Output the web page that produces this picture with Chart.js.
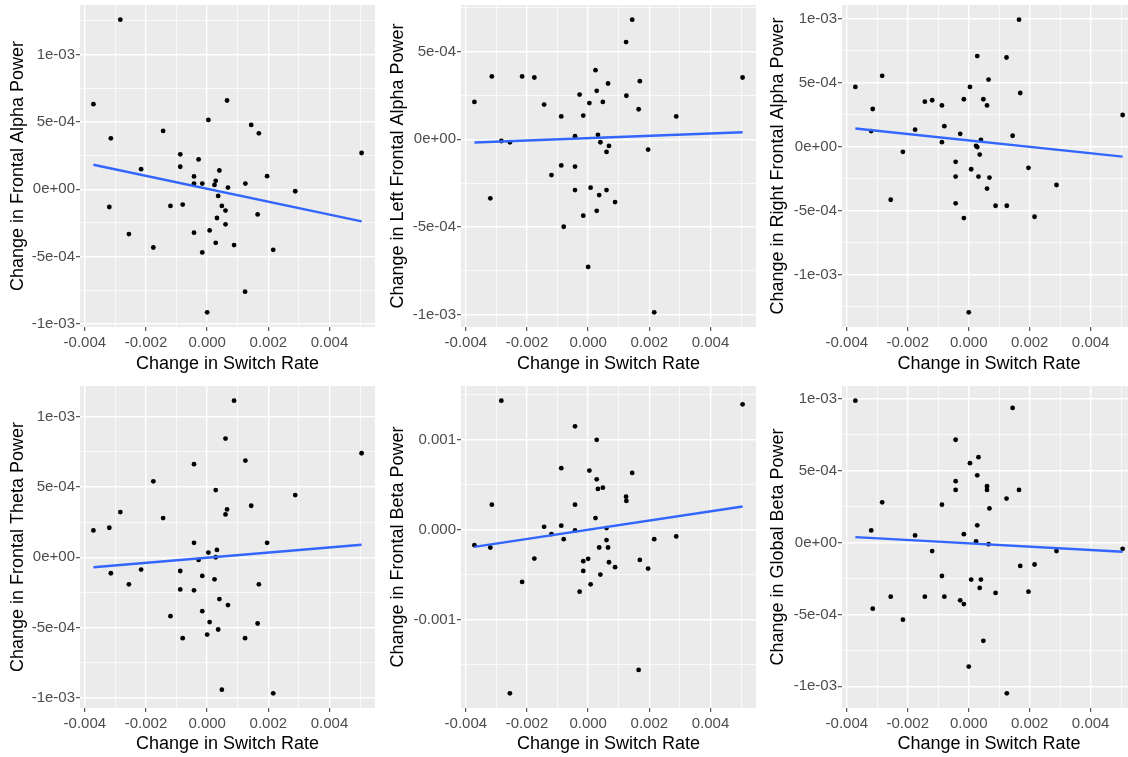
<!DOCTYPE html>
<html>
<head>
<meta charset="utf-8">
<script src="https://cdn.jsdelivr.net/npm/chart.js@4.4.0/dist/chart.umd.min.js"></script>
<style>
  html, body { margin: 0; padding: 0; background: #fff; overflow: hidden; }
  #wrap { position: relative; width: 1128px; height: 757px; overflow: hidden; }
  #wrap canvas { position: absolute; display: block; }
</style>
</head>
<body>
<div id="wrap">
  <canvas id="p1" width="380" height="380" style="left:0;top:0"></canvas>
  <canvas id="p2" width="380" height="380" style="left:380px;top:0"></canvas>
  <canvas id="p3" width="380" height="380" style="left:760px;top:0"></canvas>
  <canvas id="p4" width="380" height="380" style="left:0;top:380px"></canvas>
  <canvas id="p5" width="380" height="380" style="left:380px;top:380px"></canvas>
  <canvas id="p6" width="380" height="380" style="left:760px;top:380px"></canvas>
</div>
<script>
/* =============================================
   Switch rate vs. EEG band power — 2x3 scatter grid
   ============================================= */

// --- Data (same 42 subjects in every panel) ---
const switchRate = [
  -3.72e-3, -3.20e-3, -3.15e-3, -2.84e-3, -2.56e-3, -2.16e-3, -1.76e-3, -1.44e-3, -1.20e-3, -0.88e-3,
  -0.88e-3, -0.80e-3, -0.43e-3, -0.43e-3, -0.43e-3, -0.28e-3, -0.16e-3, -0.16e-3, 0.00e-3, 0.04e-3,
  0.08e-3, 0.24e-3, 0.28e-3, 0.28e-3, 0.32e-3, 0.36e-3, 0.40e-3, 0.48e-3, 0.60e-3, 0.60e-3,
  0.65e-3, 0.68e-3, 0.88e-3, 1.24e-3, 1.25e-3, 1.44e-3, 1.65e-3, 1.69e-3, 1.96e-3, 2.16e-3,
  2.88e-3, 5.05e-3
];

const frontalAlpha = [
  6.32e-4, -1.32e-4, 3.78e-4, 12.6e-4, -3.33e-4, 1.49e-4, -4.33e-4, 4.33e-4, -1.24e-4, 2.59e-4,
  1.67e-4, -1.14e-4, 0.95e-4, 0.42e-4, -3.23e-4, 2.21e-4, 0.42e-4, -4.70e-4, -9.15e-4, 5.15e-4,
  -3.06e-4, 0.32e-4, 0.62e-4, -3.98e-4, -2.14e-4, -0.50e-4, 1.39e-4, -1.24e-4, -1.59e-4, -2.61e-4,
  6.59e-4, 0.12e-4, -4.15e-4, -7.61e-4, 0.42e-4, 4.78e-4, -1.87e-4, 4.15e-4, 0.97e-4, -4.50e-4,
  -0.15e-4, 2.69e-4
];

const leftFrontalAlpha = [
  2.13e-4, -3.37e-4, 3.58e-4, -0.10e-4, -0.17e-4, 3.58e-4, 3.52e-4, 1.98e-4, -2.04e-4, 1.30e-4,
  -1.49e-4, -4.99e-4, 0.17e-4, -1.56e-4, -2.90e-4, 2.55e-4, 1.35e-4, -4.36e-4, -7.28e-4, 2.06e-4,
  -2.76e-4, 3.94e-4, 2.76e-4, -4.08e-4, 0.25e-4, -3.18e-4, -0.17e-4, 2.13e-4, -0.72e-4, -2.90e-4,
  3.18e-4, -0.38e-4, -3.58e-4, 5.54e-4, 2.48e-4, 6.82e-4, 1.71e-4, 3.31e-4, -0.59e-4, -9.87e-4,
  1.30e-4, 3.52e-4
];

const rightFrontalAlpha = [
  4.65e-4, 1.20e-4, 2.93e-4, 5.52e-4, -4.16e-4, -0.42e-4, 1.31e-4, 3.50e-4, 3.61e-4, 3.21e-4,
  0.34e-4, 1.59e-4, -1.20e-4, -2.35e-4, -4.44e-4, 0.99e-4, 3.69e-4, -5.59e-4, -12.96e-4, 4.65e-4,
  -1.78e-4, 0.05e-4, 7.06e-4, -0.05e-4, -2.35e-4, -0.63e-4, 0.52e-4, 3.69e-4, 3.21e-4, -3.29e-4,
  5.23e-4, -2.43e-4, -4.63e-4, 6.95e-4, -4.63e-4, 0.84e-4, 9.91e-4, 4.18e-4, -1.67e-4, -5.49e-4,
  -3.01e-4, 2.46e-4
];

const frontalTheta = [
  1.91e-4, 2.10e-4, -1.14e-4, 3.22e-4, -1.93e-4, -0.88e-4, 5.41e-4, 2.79e-4, -4.20e-4, -0.98e-4,
  -2.29e-4, -5.77e-4, 6.63e-4, 1.03e-4, -2.36e-4, -0.19e-4, -1.33e-4, -3.84e-4, -5.51e-4, 0.33e-4,
  -4.62e-4, -1.57e-4, 4.79e-4, 0.00e-4, 0.52e-4, -5.15e-4, -2.98e-4, -9.44e-4, 8.46e-4, 3.05e-4,
  3.41e-4, -3.41e-4, 11.16e-4, -5.77e-4, 6.89e-4, 3.67e-4, -4.72e-4, -1.93e-4, 1.03e-4, -9.70e-4,
  4.43e-4, 7.41e-4
];

const frontalBeta = [
  -1.71e-4, -1.97e-4, 2.79e-4, 14.35e-4, -18.18e-4, -5.80e-4, -3.20e-4, 0.33e-4, -0.48e-4, 6.84e-4,
  0.45e-4, -1.04e-4, 11.49e-4, 2.79e-4, -0.07e-4, -6.88e-4, -3.49e-4, -4.57e-4, -3.23e-4, 6.58e-4,
  -6.06e-4, 1.30e-4, 5.61e-4, 10.0e-4, 4.54e-4, -1.97e-4, -4.98e-4, 4.68e-4, 0.19e-4, -1.15e-4,
  -1.97e-4, -3.61e-4, -4.16e-4, 3.68e-4, 3.20e-4, 6.32e-4, -15.58e-4, -3.35e-4, -4.31e-4, -1.04e-4,
  -0.74e-4, 13.94e-4
];

const globalBeta = [
  9.86e-4, 0.84e-4, -4.60e-4, 2.79e-4, -3.77e-4, -5.37e-4, 0.49e-4, -3.77e-4, -0.60e-4, 2.63e-4,
  -2.33e-4, -3.77e-4, 7.14e-4, 4.26e-4, 3.65e-4, -4.02e-4, 0.58e-4, -4.28e-4, -8.63e-4, 5.51e-4,
  -2.58e-4, 0.07e-4, 4.67e-4, 1.19e-4, 5.93e-4, -3.16e-4, -2.58e-4, -6.84e-4, 3.91e-4, 3.65e-4,
  -0.12e-4, 2.37e-4, -3.51e-4, 3.05e-4, -10.49e-4, 9.35e-4, 3.65e-4, -1.63e-4, -3.42e-4, -1.53e-4,
  -0.60e-4, -0.44e-4
];

// --- Axis breaks ---
const xBreaks = [-0.004, -0.002, 0, 0.002, 0.004];
const sciBreaks = [-1e-3, -5e-4, 0, 5e-4, 1e-3];
const betaBreaks = [-0.001, 0, 0.001];

// plot-area edges inside each 380x380 canvas
const COLS = [{ left: 80, right: 375 }, { left: 81, right: 376 }, { left: 82, right: 378 }];
const ROWS = [{ top: 5, bottom: 327 }, { top: 6, bottom: 328 }];

const FONT = "'Liberation Sans', Arial, sans-serif";

function sciLabel(v) {
  return v.toExponential(0).replace(/e([+-])(\d)$/, 'e$10$2');
}
function fixedLabel(v) {
  return v.toFixed(3);
}

// ggplot-style 5% expansion of the data range
function expand(vals) {
  const lo = Math.min(...vals), hi = Math.max(...vals);
  const pad = (hi - lo) * 0.05;
  return [lo - pad, hi + pad];
}

// majors + halfway minors, like ggplot's default grid
function withMinors(breaks, lim) {
  const step = breaks[1] - breaks[0];
  const out = breaks.map(v => ({ value: v, minor: false }));
  for (let i = -1; i < breaks.length; i++) {
    const m = breaks[0] + (i + 0.5) * step;
    if (m > lim[0] && m < lim[1]) out.push({ value: m, minor: true });
  }
  return out.filter(t => t.value >= lim[0] && t.value <= lim[1]).sort((a, b) => a.value - b.value);
}

// ordinary least squares, as geom_smooth(method = "lm")
function lmFit(xs, ys) {
  const n = xs.length;
  const mx = xs.reduce((s, v) => s + v, 0) / n;
  const my = ys.reduce((s, v) => s + v, 0) / n;
  let sxy = 0, sxx = 0;
  for (let i = 0; i < n; i++) {
    sxy += (xs[i] - mx) * (ys[i] - my);
    sxx += (xs[i] - mx) * (xs[i] - mx);
  }
  const b = sxy / sxx;
  return x => my + b * (x - mx);
}

const panelBg = {
  id: 'panelBg',
  beforeDraw(chart) {
    const { ctx, chartArea: a } = chart;
    ctx.save();
    ctx.fillStyle = '#EBEBEB';
    ctx.fillRect(a.left, a.top, a.right - a.left, a.bottom - a.top);
    ctx.restore();
  }
};

const gridOpts = {
  color: '#FFFFFF',
  lineWidth: ctx => (ctx.tick && ctx.tick.minor ? 0.7 : 1.4),
  tickColor: ctx => (ctx.tick && ctx.tick.minor ? 'rgba(0,0,0,0)' : '#333333'),
  tickLength: 4,
  tickWidth: 1
};

const PANELS = [
  { id: 'p1', col: 0, row: 0, title: 'Change in Frontal Alpha Power', y: frontalAlpha, breaks: sciBreaks, fmt: sciLabel },
  { id: 'p2', col: 1, row: 0, title: 'Change in Left Frontal Alpha Power', y: leftFrontalAlpha, breaks: sciBreaks, fmt: sciLabel },
  { id: 'p3', col: 2, row: 0, title: 'Change in Right Frontal Alpha Power', y: rightFrontalAlpha, breaks: sciBreaks, fmt: sciLabel },
  { id: 'p4', col: 0, row: 1, title: 'Change in Frontal Theta Power', y: frontalTheta, breaks: sciBreaks, fmt: sciLabel },
  { id: 'p5', col: 1, row: 1, title: 'Change in Frontal Beta Power', y: frontalBeta, breaks: betaBreaks, fmt: fixedLabel },
  { id: 'p6', col: 2, row: 1, title: 'Change in Global Beta Power', y: globalBeta, breaks: sciBreaks, fmt: sciLabel }
];

PANELS.forEach(p => {
  const W = 380, H = 380;
  const col = COLS[p.col], row = ROWS[p.row];
  const xLim = expand(switchRate);
  const yLim = expand(p.y);
  const fit = lmFit(switchRate, p.y);
  const x0 = Math.min(...switchRate), x1 = Math.max(...switchRate);

  new Chart(document.getElementById(p.id), {
    type: 'scatter',
    data: {
      datasets: [
        {
          data: [{ x: x0, y: fit(x0) }, { x: x1, y: fit(x1) }],
          showLine: true,
          borderColor: '#3366FF',
          borderWidth: 2.4,
          pointRadius: 0,
          order: 0
        },
        {
          data: switchRate.map((x, i) => ({ x, y: p.y[i] })),
          backgroundColor: '#000000',
          borderWidth: 0,
          pointRadius: 2.4,
          order: 1
        }
      ]
    },
    options: {
      responsive: false,
      animation: false,
      devicePixelRatio: 1,
      layout: { padding: { top: row.top, right: W - col.right, left: 0, bottom: 0 } },
      plugins: { legend: { display: false }, tooltip: { enabled: false } },
      scales: {
        x: {
          type: 'linear',
          min: xLim[0],
          max: xLim[1],
          afterFit: s => { s.height = H - row.bottom; s.paddingLeft = 0; s.paddingRight = 0; },
          afterBuildTicks: s => { s.ticks = withMinors(xBreaks, xLim); },
          grid: gridOpts,
          border: { display: false },
          ticks: {
            autoSkip: false,
            maxRotation: 0,
            padding: 3,
            color: '#4D4D4D',
            font: { family: FONT, size: 15 },
            callback: (v, i, ticks) => (ticks[i].minor ? '' : fixedLabel(v))
          },
          title: {
            display: true,
            text: 'Change in Switch Rate',
            color: '#000000',
            font: { family: FONT, size: 18 },
            padding: { top: 0, bottom: 5 }
          }
        },
        y: {
          type: 'linear',
          min: yLim[0],
          max: yLim[1],
          afterFit: s => { s.width = col.left; s.paddingTop = 0; s.paddingBottom = 0; },
          afterBuildTicks: s => { s.ticks = withMinors(p.breaks, yLim); },
          grid: gridOpts,
          border: { display: false },
          ticks: {
            autoSkip: false,
            padding: 1,
            color: '#4D4D4D',
            font: { family: FONT, size: 15 },
            callback: (v, i, ticks) => (ticks[i].minor ? '' : p.fmt(v))
          },
          title: {
            display: true,
            text: p.title,
            color: '#000000',
            font: { family: FONT, size: 18 },
            padding: { top: 7, bottom: 0 }
          }
        }
      }
    },
    plugins: [panelBg]
  });
});
</script>
</body>
</html>
